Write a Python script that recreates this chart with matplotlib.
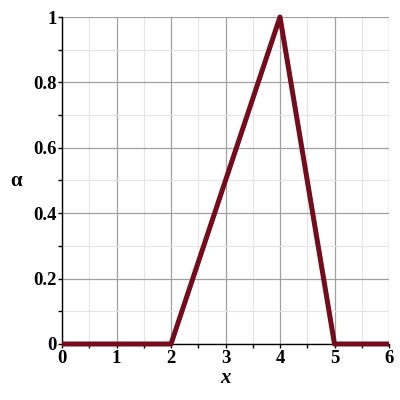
import matplotlib
matplotlib.use("Agg")
import matplotlib.pyplot as plt
from matplotlib.ticker import MultipleLocator

# membership function breakpoints
x_pts = [0, 2, 4, 5, 6]
alpha_pts = [0, 0, 1, 0, 0]

x_ticks = [0, 1, 2, 3, 4, 5, 6]
y_ticks = [0, 0.2, 0.4, 0.6, 0.8, 1]
y_tick_labels = ["0", "0.2", "0.4", "0.6", "0.8", "1"]

plt.rcParams["font.family"] = ["Liberation Serif", "DejaVu Serif"]

fig = plt.figure(figsize=(4, 4), dpi=100)
ax = fig.add_axes([0.155, 0.14, 0.8175, 0.8175])

ax.plot(x_pts, alpha_pts, color="#730c1c", linewidth=3.6, solid_joinstyle="round",
        solid_capstyle="butt", clip_on=False, zorder=5)

ax.set_xlim(0, 6)
ax.set_ylim(0, 1)
ax.set_xticks(x_ticks)
ax.set_yticks(y_ticks)
ax.set_yticklabels(y_tick_labels)
ax.xaxis.set_minor_locator(MultipleLocator(0.5))
ax.yaxis.set_minor_locator(MultipleLocator(0.1))

ax.grid(which="major", color="#a0a0a0", linewidth=0.9)
ax.grid(which="minor", color="#e4e4e4", linewidth=0.8)
ax.set_axisbelow(True)

for s in ["top", "right"]:
    ax.spines[s].set_visible(False)
for s in ["left", "bottom"]:
    ax.spines[s].set_linewidth(1.0)
    ax.spines[s].set_color("black")

ax.tick_params(which="major", direction="out", length=3, width=1, pad=1, labelsize=13.5)
ax.tick_params(which="minor", direction="out", length=3, width=1)
for lbl in ax.get_xticklabels() + ax.get_yticklabels():
    lbl.set_fontweight("bold")

ax.set_xlabel("x", fontsize=15, fontweight="bold", fontstyle="italic", labelpad=1)
ax.set_ylabel("α", fontsize=15, fontweight="bold", rotation=0, labelpad=12, va="center")

fig.savefig("out.png", dpi=100)
